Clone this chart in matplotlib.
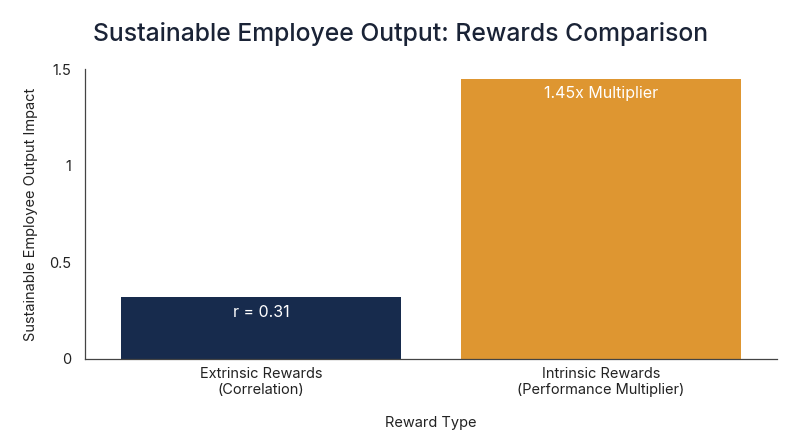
import numpy as np
import matplotlib.pyplot as plt

plt.rcParams['font.family'] = ['Inter', 'DejaVu Sans']

categories = ["Extrinsic Rewards\n(Correlation)", "Intrinsic Rewards\n(Performance Multiplier)"]
values = [0.32, 1.45]
bar_labels = ["r = 0.31", "1.45x Multiplier"]
colors = ["#172b4d", "#de9631"]
yticks = [0, 0.5, 1, 1.5]
ytick_labels = ["0", "0.5", "1", "1.5"]

fig = plt.figure(figsize=(8, 4.47), dpi=100)
ax = fig.add_axes([0.10625, 0.1975, 0.865, 0.648])

x = np.arange(len(categories))
bars = ax.bar(x, values, width=0.826, color=colors)

for b, lab in zip(bars, bar_labels):
    ax.text(b.get_x() + b.get_width() / 2, b.get_height() - 0.04, lab,
            ha="center", va="top", color="white", fontsize=11.5)

ax.set_xlim(-0.518, 1.518)
ax.set_ylim(0, 1.5)
ax.set_xticks(x)
ax.set_xticklabels(categories, fontsize=10.5, color="#222222", linespacing=1.15)
ax.set_yticks(yticks)
ax.set_yticklabels(ytick_labels, fontsize=10.5, color="#222222")
ax.tick_params(length=0, pad=10)
ax.tick_params(axis="x", pad=6)

for s in ["top", "right"]:
    ax.spines[s].set_visible(False)
for s in ["left", "bottom"]:
    ax.spines[s].set_color("#444444")
    ax.spines[s].set_linewidth(0.9)

ax.set_ylabel("Sustainable Employee Output Impact", fontsize=10.5, color="#222222", labelpad=8)
ax.set_xlabel("Reward Type", fontsize=10.5, color="#222222", labelpad=14)

fig.text(0.116, 0.925, "Sustainable Employee Output: Rewards Comparison",
         fontsize=17.8, fontweight="medium", color="#1a2336", ha="left", va="center")

fig.savefig("out.png", dpi=100)
